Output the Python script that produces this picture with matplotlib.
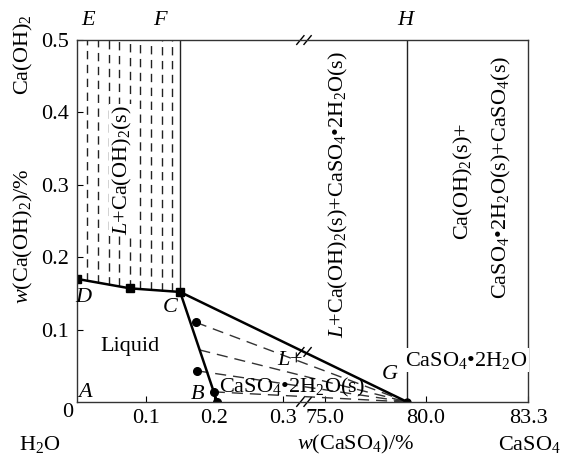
import numpy as np
import matplotlib
matplotlib.use("Agg")
import matplotlib.pyplot as plt

plt.rcParams["font.family"] = ["Liberation Serif", "DejaVu Serif"]
plt.rcParams["mathtext.fontset"] = "custom"
plt.rcParams["mathtext.rm"] = "Liberation Serif"
plt.rcParams["mathtext.it"] = "Liberation Serif:italic"
plt.rcParams["font.size"] = 16

# broken x axis: w(CaSO4) values and their relative screen positions
axis_w = [0, 0.3, 75.0, 80.0, 83.3]
axis_u = [0, 206, 248, 349, 451]

# liquidus D - C (Ca(OH)2 saturation)
dc_w = [0.0, 0.077, 0.15]
dc_y = [0.17, 0.157, 0.152]
# C - B (CaSO4.2H2O saturation)
cb_w = [0.15, 0.199, 0.204]
cb_y = [0.152, 0.014, 0.0]
# measured points on C-B
pts_w = [0.173, 0.175, 0.199, 0.204]
pts_y = [0.110, 0.043, 0.014, 0.0]
# G = CaSO4.2H2O composition
g_w, g_y = 79.07, 0.0
# tie-line starting points
tie_w = [0.173, 0.178, 0.175, 0.199]
tie_y = [0.110, 0.072, 0.043, 0.014]
# dashed hatching in L + Ca(OH)2(s) region
hatch_w = [0.015, 0.030, 0.046, 0.061, 0.077, 0.092, 0.108, 0.123, 0.138]

xticks = [0.1, 0.2, 0.3, 75.0, 80.0, 83.3]
xlabels = ["0.1", "0.2", "0.3", "75.0", "80.0", "83.3"]
yticks = [0.1, 0.2, 0.3, 0.4, 0.5]


def fwd(w):
    return np.interp(w, axis_w, axis_u)


def inv(u):
    return np.interp(u, axis_u, axis_w)


fig = plt.figure(figsize=(5.63, 4.55), dpi=100)
ax = fig.add_axes([0.137, 0.1165, 0.801, 0.7955])
ax.set_xscale("function", functions=(fwd, inv))
ax.set_xlim(0, 83.3)
ax.set_ylim(0, 0.5)

for s in ax.spines.values():
    s.set_linewidth(1.0)
    s.set_color("#333333")

ax.set_xticks(xticks)
ax.set_xticklabels(xlabels)
ax.set_yticks(yticks)
ax.set_yticklabels([f"{v:.1f}" for v in yticks])
ax.tick_params(direction="in", length=4, width=0.8, labelsize=16)
ax.tick_params(axis="x", pad=5)
ax.tick_params(axis="y", pad=6)
ax.text(-0.02, -0.028, "0", transform=ax.transAxes, ha="center", va="center", fontsize=16)

# hatching
for hw in hatch_w:
    ytop = np.interp(hw, dc_w, dc_y)
    ax.plot([hw, hw], [ytop, 0.5], color="#222222", lw=1.0,
            linestyle=(0, (6, 4)))
ax.plot([0.15, 0.15], [0.152, 0.5], color="#222222", lw=1.0)
ax.plot([g_w, g_w], [0, 0.5], color="#222222", lw=1.0)

# tie lines
for tw, ty in zip(tie_w, tie_y):
    ax.plot([tw, g_w], [ty, g_y], color="#333333", lw=1.0,
            linestyle=(0, (8, 5)))

# phase boundaries
ax.plot(dc_w, dc_y, color="black", lw=1.8, marker="s", ms=5.5)
ax.plot(cb_w, cb_y, color="black", lw=1.8)
ax.plot([0.15, g_w], [0.152, g_y], color="black", lw=1.8)
ax.plot(pts_w, pts_y, "o", color="black", ms=5.5)
ax.plot([g_w], [g_y], "o", color="black", ms=5)

# break marks
bx = 0.503
p1 = ax.transAxes.inverted().transform(ax.transData.transform((0.15, 0.152)))
p2 = ax.transAxes.inverted().transform(ax.transData.transform((g_w, g_y)))
by = p1[1] + (bx - p1[0]) * (p2[1] - p1[1]) / (p2[0] - p1[0])
for yy in [1.0, 0.0, by]:
    for dx in [-0.008, 0.008]:
        ax.plot([bx + dx - 0.008, bx + dx + 0.008], [yy - 0.012, yy + 0.012],
                transform=ax.transAxes, color="black", lw=1.0, clip_on=False)

wb = dict(facecolor="white", edgecolor="none", pad=1)
ax.text(0.100, 0.641, r"$L$+Ca(OH)$_2$(s)", transform=ax.transAxes,
        rotation=90, ha="center", va="center", bbox=wb)
ax.text(0.579, 0.572, r"$L$+Ca(OH)$_2$(s)+CaSO$_4$•2H$_2$O(s)",
        transform=ax.transAxes, rotation=90, ha="center", va="center")
ax.text(0.856, 0.608, r"Ca(OH)$_2$(s)+", transform=ax.transAxes,
        rotation=90, ha="center", va="center")
ax.text(0.942, 0.622, r"CaSO$_4$•2H$_2$O(s)+CaSO$_4$(s)",
        transform=ax.transAxes, rotation=90, ha="center", va="center")
ax.text(0.118, 0.152, "Liquid", transform=ax.transAxes, ha="center", va="center")
ax.text(0.863, 0.116, r"CaSO$_4$•2H$_2$O", transform=ax.transAxes,
        ha="center", va="center", bbox=wb)
ax.text(0.477, 0.039, r"CaSO$_4$•2H$_2$O(s)", transform=ax.transAxes,
        ha="center", va="center")
ax.text(0.472, 0.116, r"$L$+", transform=ax.transAxes, ha="center", va="center")

for lab, xf, yf in [("C", 0.206, 0.26), ("D", 0.013, 0.29), ("A", 0.018, 0.025),
                    ("B", 0.268, 0.022), ("G", 0.694, 0.075),
                    ("E", 0.024, 1.055), ("F", 0.184, 1.055), ("H", 0.727, 1.055)]:
    ax.text(xf, yf, lab, transform=ax.transAxes, ha="center", va="center",
            style="italic")

fig.text(0.042, 0.879, r"Ca(OH)$_2$", rotation=90, ha="center", va="center")
fig.text(0.042, 0.48, r"$w$(Ca(OH)$_2$)/%", rotation=90, ha="center", va="center")
fig.text(0.071, 0.024, r"H$_2$O", ha="center", va="center")
fig.text(0.631, 0.024, r"$w$(CaSO$_4$)/%", ha="center", va="center")
fig.text(0.941, 0.024, r"CaSO$_4$", ha="center", va="center")

fig.savefig("out.png", dpi=100)
